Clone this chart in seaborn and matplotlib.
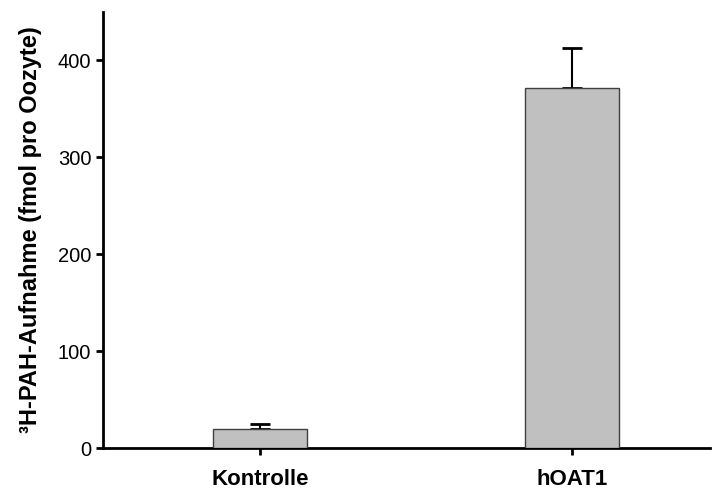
import matplotlib
matplotlib.use("Agg")
import matplotlib.pyplot as plt
import seaborn as sns
import pandas as pd
import numpy as np

categories = ["Kontrolle", "hOAT1"]
values = [20, 372]
errors = [5, 41]
yticks = [0, 100, 200, 300, 400]

sns.set_style("ticks")
plt.rcParams['font.family'] = ['Liberation Sans', 'DejaVu Sans']

df = pd.DataFrame({"cat": categories, "val": values})

fig = plt.figure(figsize=(7.17, 4.94), dpi=100)
ax = fig.add_axes([0.1437, 0.0931, 0.8463, 0.8826])

sns.barplot(data=df, x="cat", y="val", ax=ax, color="#c0c0c0",
            edgecolor="#404040", linewidth=1.0, width=0.30, errorbar=None,
            saturation=1, zorder=3)
ax.errorbar(np.arange(len(categories)), values,
            yerr=[np.zeros(len(errors)), errors], fmt="none",
            ecolor="black", elinewidth=1.5, capsize=7, capthick=2, zorder=2)

ax.set_xlim(-0.503, 1.442)
ax.set_ylim(0, 450)
ax.set_yticks(yticks)
ax.set_xlabel("")
ax.set_ylabel("³H-PAH-Aufnahme (fmol pro Oozyte)",
              fontsize=17, fontweight="bold", labelpad=11, color="black")
ax.tick_params(axis="y", labelsize=14.5, width=2, length=5, direction="out",
               labelcolor="black", color="black")
ax.tick_params(axis="x", labelsize=16, width=2, length=5, direction="out",
               pad=10, labelcolor="black", color="black")
for lbl in ax.get_xticklabels():
    lbl.set_fontweight("bold")
for s in ["top", "right"]:
    ax.spines[s].set_visible(False)
for s in ["left", "bottom"]:
    ax.spines[s].set_linewidth(2)
    ax.spines[s].set_color("black")

fig.savefig("out.png", dpi=100)
